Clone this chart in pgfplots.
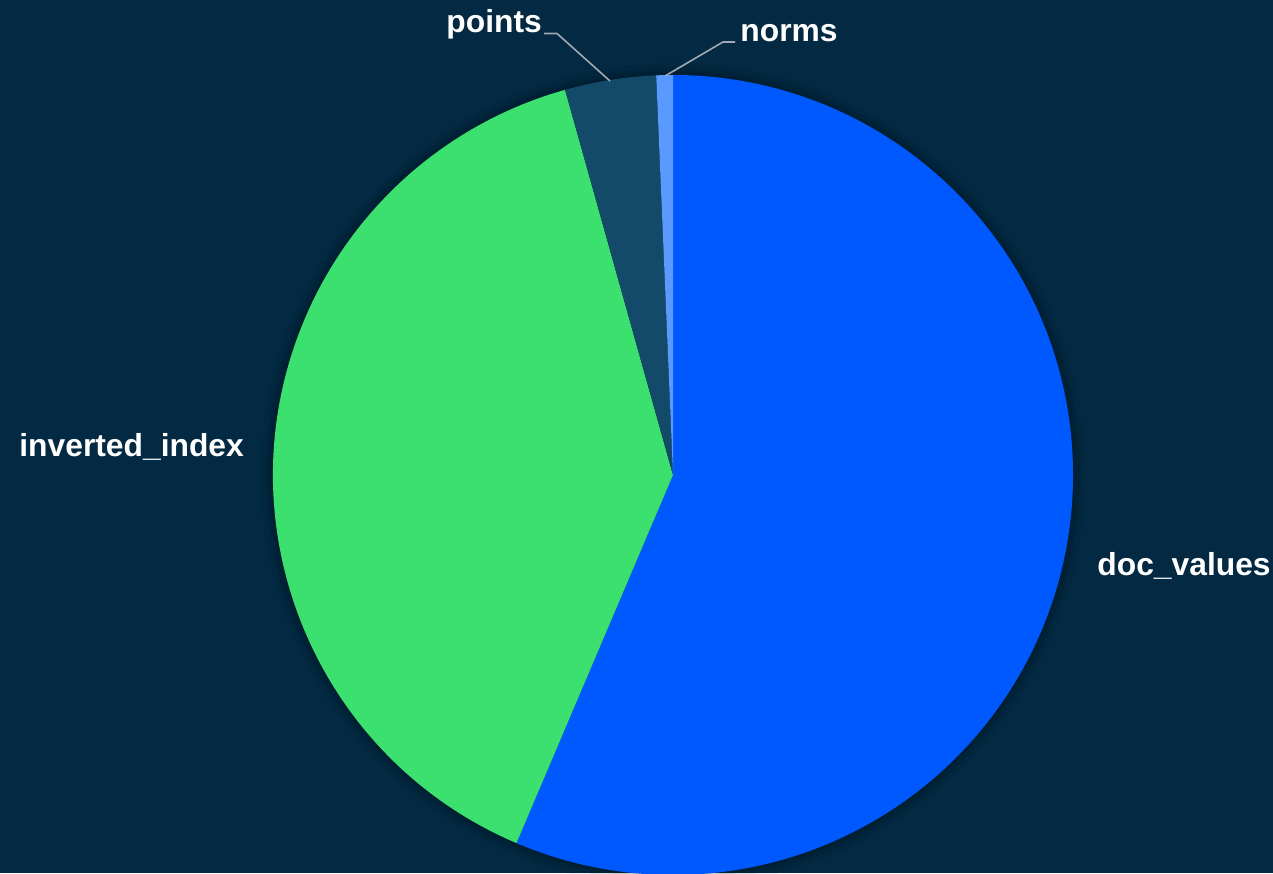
\documentclass[border=0pt]{standalone}
\usepackage{fontspec}
\setmainfont{Liberation Sans}
\usepackage{pgfplots}
\usepackage{pgfplotstable}
\pgfplotsset{compat=1.18}
\definecolor{bg}{HTML}{032A42}
\definecolor{cdoc}{HTML}{0058FF}
\definecolor{cinv}{HTML}{3BE06E}
\definecolor{cpts}{HTML}{144A69}
\definecolor{cnorm}{HTML}{5A9AFF}
\definecolor{cline}{HTML}{A0AAB4}
\pgfplotstableread{
name value color
doc_values 56.4 cdoc
inverted_index 39.25 cinv
points 3.68 cpts
norms 0.67 cnorm
}\piedata
\begin{document}
\begin{tikzpicture}
\fill[bg] (0,0) rectangle (636.5pt,436.5pt);
\useasboundingbox (0,0) rectangle (636.5pt,436.5pt);
\begin{axis}[
  at={(0,0)}, anchor=south west,
  scale only axis, width=636.5pt, height=436.5pt,
  xmin=0, xmax=1273, ymin=0, ymax=873,
  axis lines=none, clip=false,
]
% soft shadow
\fill[black, opacity=0.06] (axis cs:673,398) circle[radius=206pt];
\fill[black, opacity=0.08] (axis cs:673,398) circle[radius=203.5pt];
\fill[black, opacity=0.10] (axis cs:673,398) circle[radius=201.5pt];
\pgfmathsetmacro{\angA}{90}
\pgfplotsforeachungrouped \i in {0,...,3}{%
  \pgfplotstablegetelem{\i}{value}\of\piedata \let\val\pgfplotsretval
  \pgfplotstablegetelem{\i}{color}\of\piedata \let\col\pgfplotsretval
  \pgfmathsetmacro{\angB}{\angA-3.6*\val}%
  \edef\tmp{\noexpand\fill[\col] (axis cs:673,398) -- ++(\angA:200pt) arc[start angle=\angA, end angle=\angB, radius=200pt] -- cycle;}%
  \tmp
  \let\angA\angB
}
% leader lines
\draw[cline, line width=0.8pt] (axis cs:544,839.5) -- (axis cs:557,839.5) -- (axis cs:610,792);
\draw[cline, line width=0.8pt] (axis cs:665,797) -- (axis cs:723,831) -- (axis cs:735,831);
% labels
\tikzset{lab/.style={anchor=base west, inner sep=0pt, text=white, font=\bfseries\fontsize{15.9}{19}\selectfont}}
\node[lab] at (axis cs:446,840) {points};
\node[lab] at (axis cs:740,831) {norms};
\node[lab] at (axis cs:19,416.3) {inverted\_index};
\node[lab] at (axis cs:1097,298) {doc\_values};
\end{axis}
\end{tikzpicture}
\end{document}
